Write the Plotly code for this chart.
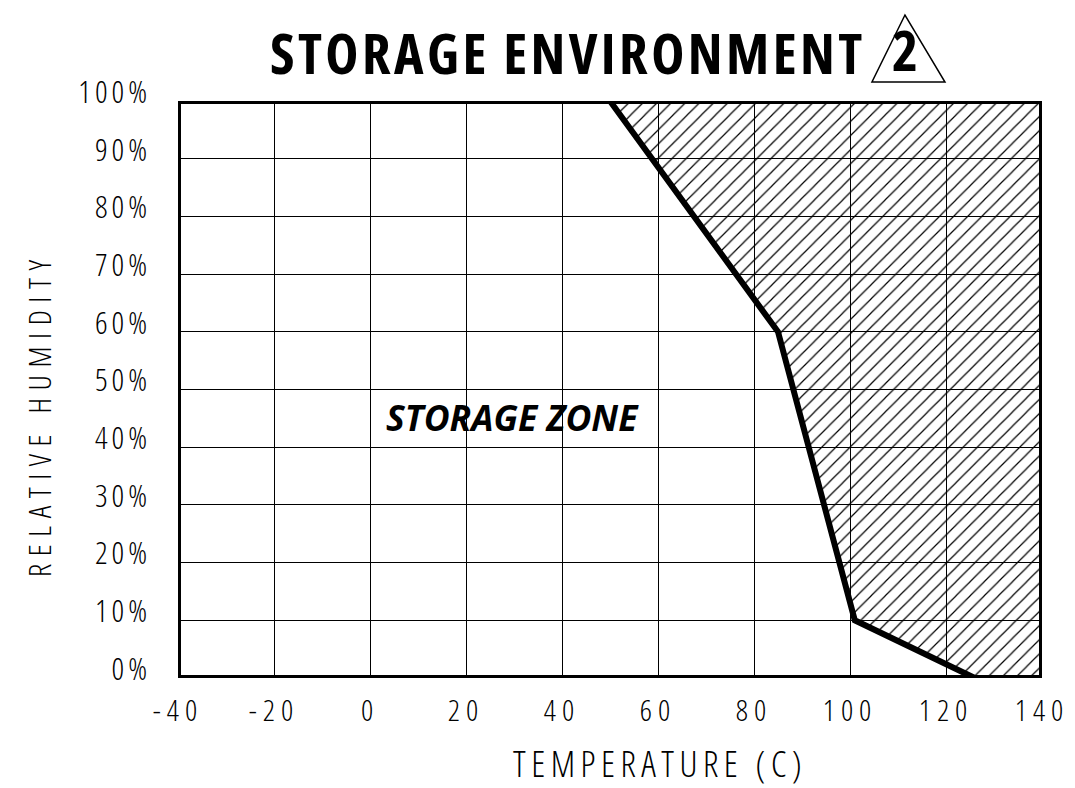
import plotly.graph_objects as go

# Data
x_ticks = [-40, -20, 0, 20, 40, 60, 80, 100, 120, 140]
x_tick_labels = ["-40", "-20", "0", "20", "40", "60", "80", "100", "120", "140"]
y_ticks = [0, 10, 20, 30, 40, 50, 60, 70, 80, 90, 100]
y_tick_labels = ["0%", "10%", "20%", "30%", "40%", "50%", "60%", "70%", "80%", "90%", "100%"]

# Storage limit boundary (temperature C, relative humidity %)
limit_temp = [50, 85, 101, 126]
limit_rh = [100, 60, 10, 0]

x_min, x_max = -40, 140
y_min, y_max = 0, 100

FONT = "Open Sans, DejaVu Sans, sans-serif"


def narrow(text, spacing):
    return f'<span style="font-stretch:75%;letter-spacing:{spacing}px">{text}</span>'


fig = go.Figure()

# Hatched (out-of-spec) region
hatch_x = limit_temp + [x_max, x_max, limit_temp[0]]
hatch_y = limit_rh + [y_min, y_max, limit_rh[0]]
fig.add_trace(go.Scatter(
    x=hatch_x, y=hatch_y, mode="lines", fill="toself",
    line=dict(width=0, color="rgba(0,0,0,0)"),
    fillcolor="rgba(0,0,0,0)",
    fillpattern=dict(shape="/", fgcolor="black", bgcolor="rgba(0,0,0,0)",
                     size=10, solidity=0.12, fillmode="replace"),
    hoverinfo="skip", showlegend=False,
))

# Boundary line
fig.add_trace(go.Scatter(
    x=limit_temp, y=limit_rh, mode="lines",
    line=dict(color="black", width=6),
    showlegend=False,
))

# Thick frame
fig.add_shape(type="rect", xref="x", yref="y", x0=x_min, x1=x_max, y0=y_min, y1=y_max,
              line=dict(color="black", width=6), layer="above")

# Title triangle marker
fig.add_shape(type="path", xref="paper", yref="paper",
              path="M 0.8032,1.0329 L 0.8877,1.0329 L 0.8414,1.149 Z",
              line=dict(color="black", width=1.5))

fig.add_annotation(x=0.7986, y=1.085, xref="paper", yref="paper",
                   text=narrow("STORAGE ENVIRONMENT", 3.4),
                   showarrow=False, xanchor="right", yanchor="middle",
                   font=dict(family=FONT, size=56, weight=700, color="black"))
fig.add_annotation(x=0.8415, y=1.09, xref="paper", yref="paper",
                   text=narrow("2", 0), showarrow=False,
                   xanchor="center", yanchor="middle",
                   font=dict(family=FONT, size=56, weight=700, color="black"))

fig.add_annotation(x=29.6, y=45.2, xref="x", yref="y",
                   text="<i>STORAGE ZONE</i>", showarrow=False,
                   xanchor="center", yanchor="middle",
                   font=dict(family=FONT, size=35.5, weight=700, color="black"))

# Axis titles
fig.add_annotation(x=0.558, y=-0.148, xref="paper", yref="paper",
                   text=narrow("TEMPERATURE (C)", 5.5), showarrow=False,
                   xanchor="center", yanchor="middle",
                   font=dict(family=FONT, size=36, weight=300, color="black"))
fig.add_annotation(x=-0.1609, y=0.4575, xref="paper", yref="paper",
                   text=narrow("RELATIVE HUMIDITY", 7.5), showarrow=False, textangle=-90,
                   xanchor="center", yanchor="middle",
                   font=dict(family=FONT, size=31, weight=300, color="black"))

fig.update_xaxes(
    range=[x_min, x_max], tickmode="array", tickvals=x_ticks,
    ticktext=[narrow(t, 6) for t in x_tick_labels],
    showgrid=True, gridcolor="black", gridwidth=1.3, zeroline=False,
    showline=False, ticks="", ticklabelstandoff=12, automargin=False,
    tickfont=dict(family=FONT, size=30, weight=300, color="black"),
)
fig.update_yaxes(
    range=[y_min, y_max], tickmode="array", tickvals=y_ticks,
    ticktext=[narrow(t, 4) for t in y_tick_labels],
    showgrid=True, gridcolor="black", gridwidth=1.3, zeroline=False,
    showline=False, ticks="", ticklabelstandoff=26, ticklabelshift=-9, automargin=False,
    tickfont=dict(family=FONT, size=31, weight=300, color="black"),
)

fig.update_layout(
    width=1075, height=788,
    margin=dict(l=170, r=41, t=93, b=118),
    paper_bgcolor="white", plot_bgcolor="white",
    showlegend=False,
)

fig.write_html("out.html")
